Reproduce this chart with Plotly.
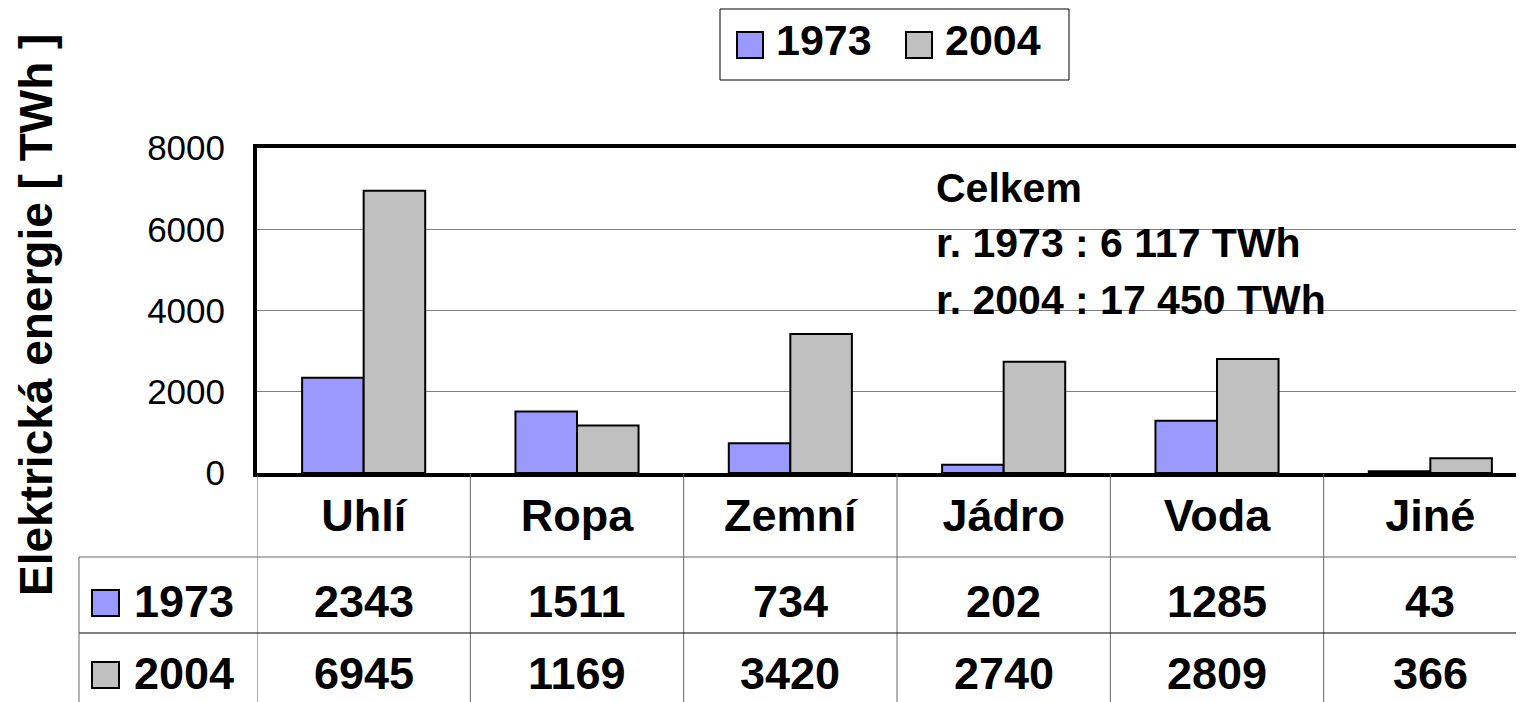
import plotly.graph_objs as go

# data
categories = ['Uhlí', 'Ropa', 'Zemní', 'Jádro', 'Voda', 'Jiné']
years = ['1973', '2004']
values_1973 = [2343, 1511, 734, 202, 1285, 43]
values_2004 = [6945, 1169, 3420, 2740, 2809, 366]
total_lines = ['Celkem', 'r. 1973 : 6 117 TWh', 'r. 2004 : 17 450 TWh']
y_ticks = [0, 2000, 4000, 6000, 8000]

colors = ['#9999FF', '#C0C0C0']
FONT = 'Liberation Sans, Arial, sans-serif'
W, H = 1524, 702
OFF = 8  # page body margin


def px(x):
    # window pixel -> paper x
    return (x - OFF) / W


def py(y):
    # window pixel (from top) -> paper y
    return 1 - (y - OFF) / H


series = [values_1973, values_2004]

fig = go.Figure()
for i, year in enumerate(years):
    fig.add_trace(go.Bar(x=categories, y=series[i], name=year,
                         marker=dict(color=colors[i], line=dict(color='black', width=2)),
                         showlegend=False))

shapes = []
annotations = []

# table grid lines
for i in range(len(categories)):
    shapes.append(dict(type='line', xref='x', yref='paper', x0=i - 0.5, x1=i - 0.5,
                       y0=0, y1=py(474), line=dict(color='#666666', width=1)))
shapes.append(dict(type='line', xref='paper', yref='paper', x0=px(79), x1=1,
                   y0=py(557), y1=py(557), line=dict(color='#666666', width=1)))
shapes.append(dict(type='line', xref='paper', yref='paper', x0=px(79), x1=1,
                   y0=py(633), y1=py(633), line=dict(color='black', width=1)))
shapes.append(dict(type='line', xref='paper', yref='paper', x0=px(79), x1=px(79),
                   y0=0, y1=py(557), line=dict(color='#666666', width=1)))

# table rows: swatch, year label, values
row_y = [601, 673]
for r, year in enumerate(years):
    yc = row_y[r]
    shapes.append(dict(type='rect', xref='paper', yref='paper', x0=px(92), x1=px(119),
                       y0=py(yc - 11), y1=py(yc + 15), fillcolor=colors[r],
                       line=dict(color='black', width=2)))
    annotations.append(dict(x=px(132), y=py(yc), xref='paper', yref='paper', text=year,
                            xanchor='left', yanchor='middle', showarrow=False,
                            font=dict(family=FONT, size=45, color='black', weight='bold')))
    for i, v in enumerate(series[r]):
        annotations.append(dict(x=i, y=py(yc), xref='x', yref='paper', text=str(v),
                                xanchor='center', yanchor='middle', showarrow=False,
                                font=dict(family=FONT, size=45, color='black', weight='bold')))

# totals text
for k, line in enumerate(total_lines):
    annotations.append(dict(x=px(934), y=py([188, 243, 300][k]), xref='paper', yref='paper',
                            text=line, xanchor='left', yanchor='middle', showarrow=False,
                            font=dict(family=FONT, size=41, color='black', weight='bold')))

# y axis title
annotations.append(dict(x=px(36), y=py(315), xref='paper', yref='paper',
                        text='Elektrická energie [ TWh ]', textangle=-90,
                        xanchor='center', yanchor='middle', showarrow=False,
                        font=dict(family=FONT, size=46, color='black', weight='bold')))

# legend box
shapes.append(dict(type='rect', xref='paper', yref='paper', x0=px(720), x1=px(1069),
                   y0=py(80), y1=py(9), line=dict(color='black', width=1),
                   fillcolor='white'))
legend_x = [737, 906]
for i, year in enumerate(years):
    shapes.append(dict(type='rect', xref='paper', yref='paper', x0=px(legend_x[i]),
                       x1=px(legend_x[i] + 26), y0=py(58), y1=py(32), fillcolor=colors[i],
                       line=dict(color='black', width=2)))
    annotations.append(dict(x=px(legend_x[i] + 37), y=py(40), xref='paper', yref='paper',
                            text=year, xanchor='left', yanchor='middle', showarrow=False,
                            font=dict(family=FONT, size=43, color='black', weight='bold')))

fig.update_layout(
    width=W, height=H,
    margin=dict(l=0, r=0, t=0, b=0, autoexpand=False),
    paper_bgcolor='white', plot_bgcolor='white',
    barmode='group', bargap=0.423, bargroupgap=0,
    xaxis=dict(domain=[px(257), 1], range=[-0.5, 5.5 - 5 / 213.4], automargin=False,
               showline=True, mirror=True, linecolor='black', linewidth=4,
               showgrid=False, ticks='', ticklabelstandoff=0,
               tickfont=dict(family=FONT, size=45, color='black', weight='bold')),
    yaxis=dict(domain=[py(473), py(148)], range=[0, 8000], tickvals=y_ticks, automargin=False,
               showline=True, linecolor='black', linewidth=4,
               showgrid=True, gridcolor='#808080', gridwidth=1, zeroline=False,
               ticks='', ticklabelstandoff=21,
               tickfont=dict(family=FONT, size=35, color='black')),
    shapes=shapes,
    annotations=annotations,
)

fig.write_html("out.html")
